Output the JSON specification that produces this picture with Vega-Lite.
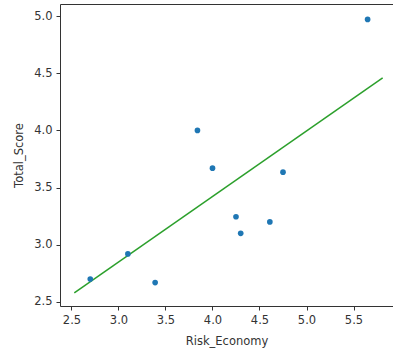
{
  "$schema": "https://vega.github.io/schema/vega-lite/v6.json",
  "width": 333,
  "height": 302,
  "autosize": {"type": "none"},
  "padding": {"left": 60, "top": 4, "right": 0, "bottom": 49},
  "background": "white",
  "config": {
    "view": {"stroke": null},
    "axis": {
      "labelFont": "DejaVu Sans",
      "titleFont": "DejaVu Sans",
      "labelFontSize": 11.5,
      "titleFontSize": 11.5,
      "labelColor": "#333333",
      "titleColor": "#333333",
      "titleFontWeight": "normal",
      "domainColor": "#333333",
      "tickColor": "#333333",
      "domainWidth": 1,
      "tickWidth": 1,
      "tickSize": 4,
      "labelPadding": 4,
      "grid": false
    }
  },
  "datasets": {
    "scores": [
      {"Risk_Economy": 2.70, "Total_Score": 2.70},
      {"Risk_Economy": 3.10, "Total_Score": 2.92},
      {"Risk_Economy": 3.39, "Total_Score": 2.67},
      {"Risk_Economy": 3.84, "Total_Score": 4.00},
      {"Risk_Economy": 4.00, "Total_Score": 3.67},
      {"Risk_Economy": 4.25, "Total_Score": 3.245},
      {"Risk_Economy": 4.30, "Total_Score": 3.10},
      {"Risk_Economy": 4.61, "Total_Score": 3.20},
      {"Risk_Economy": 4.75, "Total_Score": 3.635},
      {"Risk_Economy": 5.65, "Total_Score": 4.97}
    ],
    "fit": [
      {"Risk_Economy": 2.53, "Total_Score": 2.58},
      {"Risk_Economy": 5.81, "Total_Score": 4.46}
    ]
  },
  "layer": [
    {
      "data": {"name": "fit"},
      "mark": {"type": "line", "color": "#2ca02c", "strokeWidth": 1.5},
      "encoding": {
        "x": {
          "field": "Risk_Economy",
          "type": "quantitative",
          "scale": {"domain": [2.378, 5.92], "nice": false, "zero": false},
          "axis": {"orient": "top", "labels": false, "ticks": false, "title": null}
        },
        "y": {
          "field": "Total_Score",
          "type": "quantitative",
          "scale": {"domain": [2.465, 5.105], "nice": false, "zero": false},
          "axis": {"values": [2.5, 3.0, 3.5, 4.0, 4.5, 5.0], "format": ".1f", "title": "Total_Score", "titlePadding": 9}
        }
      }
    },
    {
      "data": {"name": "scores"},
      "mark": {"type": "circle", "color": "#1f77b4", "opacity": 1, "size": 32},
      "encoding": {
        "x": {
          "field": "Risk_Economy",
          "type": "quantitative",
          "axis": {"orient": "bottom", "values": [2.5, 3.0, 3.5, 4.0, 4.5, 5.0, 5.5], "format": ".1f", "title": "Risk_Economy", "titlePadding": 10}
        },
        "y": {
          "field": "Total_Score",
          "type": "quantitative",
          "axis": {"values": [2.5, 3.0, 3.5, 4.0, 4.5, 5.0], "format": ".1f", "title": "Total_Score", "titlePadding": 9}
        }
      }
    }
  ],
  "resolve": {"axis": {"x": "independent"}}
}
